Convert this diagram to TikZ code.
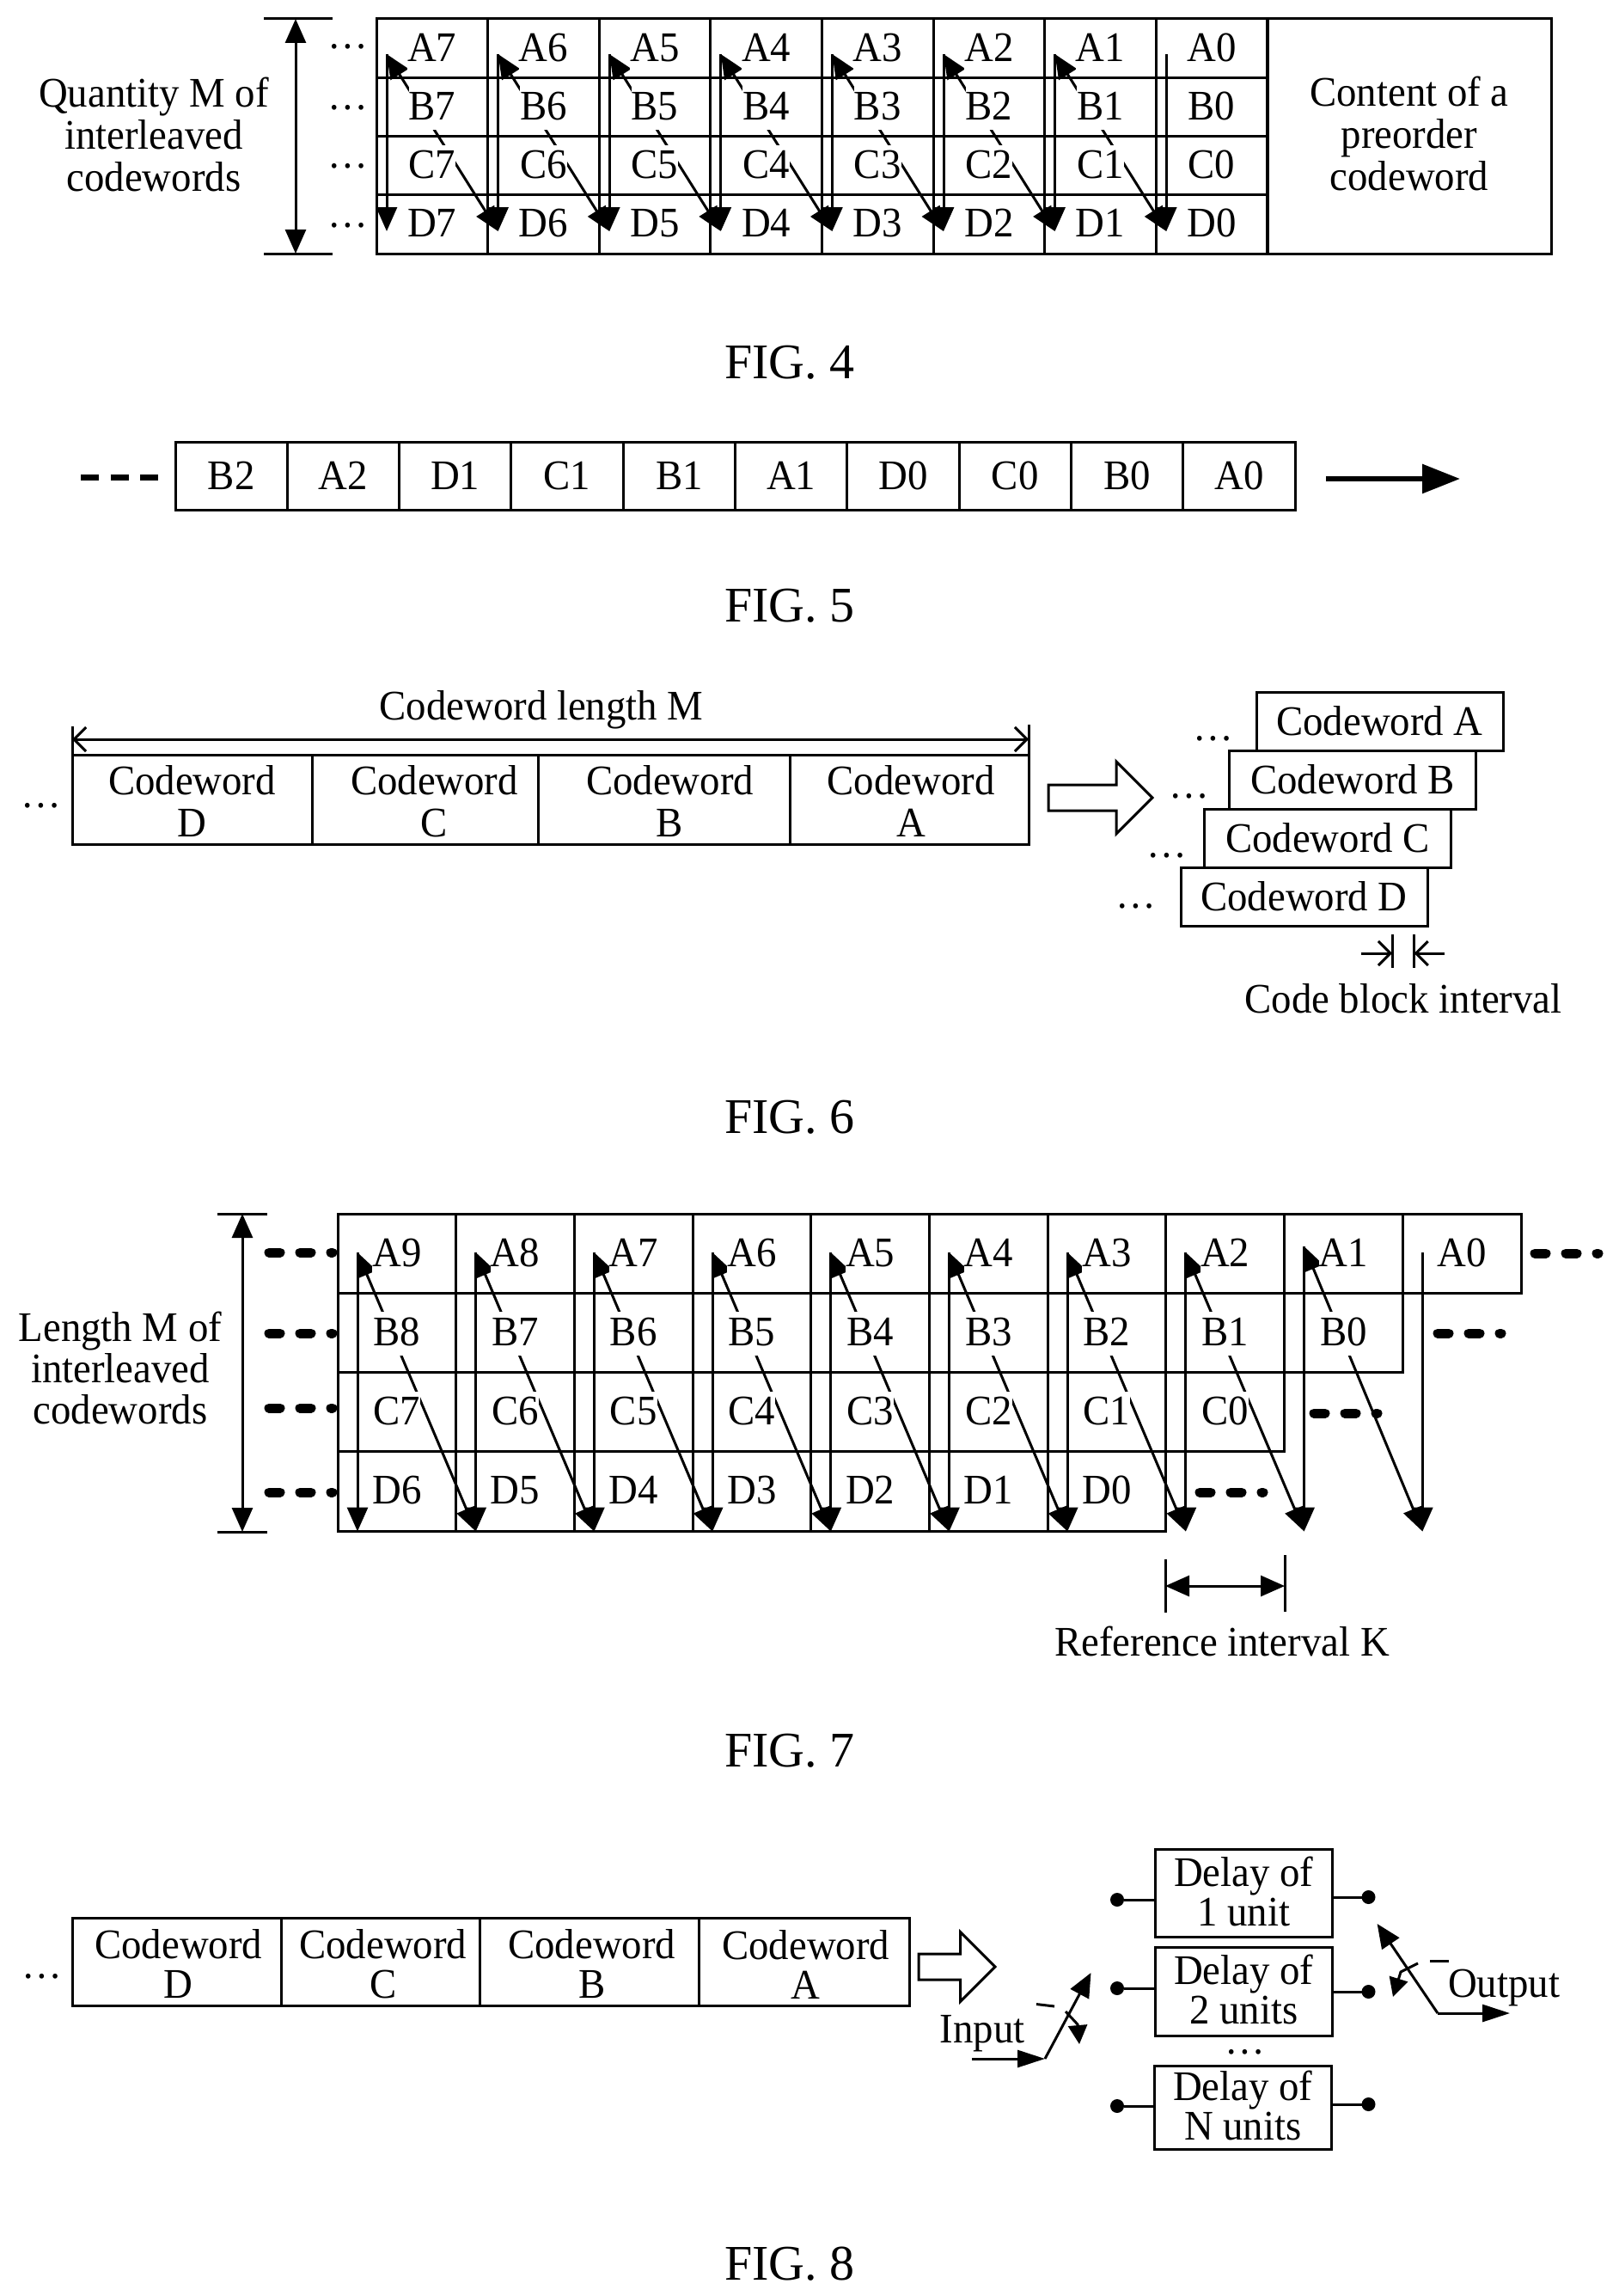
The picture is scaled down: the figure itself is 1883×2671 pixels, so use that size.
\documentclass[tikz,border=0pt]{standalone}
\usepackage{fontspec}
\setmainfont[FakeStretch=0.955]{Liberation Serif}
\newfontfamily\captionfont{Liberation Serif}
\usetikzlibrary{positioning,arrows.meta,shapes.arrows}

\begin{document}
\begin{tikzpicture}
    [
        x = 1pt, y = -1pt,
        line width = 3pt,
        > = {Triangle[length=28pt,width=24pt]},
        every node/.style = {font = \fontsize{49}{49}\selectfont, inner sep = 0pt, outer sep = 0pt},
        cellbox/.style = {draw, line width = 3pt},
        celltext/.style = {fill = white, text height = 39pt, text depth = 12pt, yshift = -1.5pt},
        fourcell/.style = {cellbox, minimum width = 129.6pt, minimum height = 68.25pt},
        fivecell/.style = {cellbox, minimum width = 130.3pt, minimum height = 79pt},
        sevencell/.style = {cellbox, minimum width = 137.7pt, minimum height = 92.25pt},
        stackbox/.style = {cellbox, minimum width = 287pt, minimum height = 68pt},
        delaybox/.style = {cellbox, minimum width = 206.5pt},
        wordtext/.style = {align = center},
        delaytext/.style = {align = center, yshift = 2pt, font = \fontsize{49}{46}\selectfont},
        figlabel/.style = {anchor = base, font = \captionfont\fontsize{58}{58}\selectfont},
        terminal/.style = {circle, fill = black, minimum size = 16pt},
        blockarrow/.style = {draw, single arrow, anchor = tail, inner ysep = 13.5pt, single arrow tip angle = 90, single arrow head indent = 0pt},
        barb/.style = {{Straight Barb[length=14pt,width=28pt]}-{Straight Barb[length=14pt,width=28pt]}},
        barbin/.style = {-{Straight Barb[length=14pt,width=28pt]}},
        longhead/.style = {-{Triangle[length=32pt,width=20pt]}},
        smallhead/.style = {-{Triangle[length=22pt,width=22pt]}},
        dotrow/.style = {line width = 11pt, line cap = round, dash pattern = on 13pt off 23pt}
    ]

        \useasboundingbox (0,0) rectangle (1883,2671);

        % FIG. 4
        \coordinate (FourTop7) at (450,63);    \coordinate (FourBot7) at (450,269);
        \coordinate (FourTop6) at (579.6,63);  \coordinate (FourBot6) at (579.6,269);
        \coordinate (FourTop5) at (709.2,63);  \coordinate (FourBot5) at (709.2,269);
        \coordinate (FourTop4) at (838.8,63);  \coordinate (FourBot4) at (838.8,269);
        \coordinate (FourTop3) at (968.4,63);  \coordinate (FourBot3) at (968.4,269);
        \coordinate (FourTop2) at (1098,63);   \coordinate (FourBot2) at (1098,269);
        \coordinate (FourTop1) at (1227.6,63); \coordinate (FourBot1) at (1227.6,269);
        \coordinate (FourTop0) at (1357.2,63); \coordinate (FourBot0) at (1357.2,269);
        \coordinate (FourDimTop) at (344,22);  \coordinate (FourDimBot) at (344,295);

        \draw[->] (FourTop7) -- (FourBot7);
        \draw[->] (FourTop6) -- (FourBot6);
        \draw[->] (FourTop5) -- (FourBot5);
        \draw[->] (FourTop4) -- (FourBot4);
        \draw[->] (FourTop3) -- (FourBot3);
        \draw[->] (FourTop2) -- (FourBot2);
        \draw[->] (FourTop1) -- (FourBot1);
        \draw[->] (FourTop0) -- (FourBot0);
        \draw[<->] (FourTop7) -- (FourBot6);
        \draw[<->] (FourTop6) -- (FourBot5);
        \draw[<->] (FourTop5) -- (FourBot4);
        \draw[<->] (FourTop4) -- (FourBot3);
        \draw[<->] (FourTop3) -- (FourBot2);
        \draw[<->] (FourTop2) -- (FourBot1);
        \draw[<->] (FourTop1) -- (FourBot0);

        \node[fourcell, anchor = north west, label = {[celltext]center:A7}] (FourA7) at (438,22) {};
        \node[fourcell, right = 0pt of FourA7, label = {[celltext]center:A6}] (FourA6) {};
        \node[fourcell, right = 0pt of FourA6, label = {[celltext]center:A5}] (FourA5) {};
        \node[fourcell, right = 0pt of FourA5, label = {[celltext]center:A4}] (FourA4) {};
        \node[fourcell, right = 0pt of FourA4, label = {[celltext]center:A3}] (FourA3) {};
        \node[fourcell, right = 0pt of FourA3, label = {[celltext]center:A2}] (FourA2) {};
        \node[fourcell, right = 0pt of FourA2, label = {[celltext]center:A1}] (FourA1) {};
        \node[fourcell, right = 0pt of FourA1, label = {[celltext]center:A0}] (FourA0) {};
        \node[fourcell, below = 0pt of FourA7, label = {[celltext]center:B7}] (FourB7) {};
        \node[fourcell, right = 0pt of FourB7, label = {[celltext]center:B6}] (FourB6) {};
        \node[fourcell, right = 0pt of FourB6, label = {[celltext]center:B5}] (FourB5) {};
        \node[fourcell, right = 0pt of FourB5, label = {[celltext]center:B4}] (FourB4) {};
        \node[fourcell, right = 0pt of FourB4, label = {[celltext]center:B3}] (FourB3) {};
        \node[fourcell, right = 0pt of FourB3, label = {[celltext]center:B2}] (FourB2) {};
        \node[fourcell, right = 0pt of FourB2, label = {[celltext]center:B1}] (FourB1) {};
        \node[fourcell, right = 0pt of FourB1, label = {[celltext]center:B0}] (FourB0) {};
        \node[fourcell, below = 0pt of FourB7, label = {[celltext]center:C7}] (FourC7) {};
        \node[fourcell, right = 0pt of FourC7, label = {[celltext]center:C6}] (FourC6) {};
        \node[fourcell, right = 0pt of FourC6, label = {[celltext]center:C5}] (FourC5) {};
        \node[fourcell, right = 0pt of FourC5, label = {[celltext]center:C4}] (FourC4) {};
        \node[fourcell, right = 0pt of FourC4, label = {[celltext]center:C3}] (FourC3) {};
        \node[fourcell, right = 0pt of FourC3, label = {[celltext]center:C2}] (FourC2) {};
        \node[fourcell, right = 0pt of FourC2, label = {[celltext]center:C1}] (FourC1) {};
        \node[fourcell, right = 0pt of FourC1, label = {[celltext]center:C0}] (FourC0) {};
        \node[fourcell, below = 0pt of FourC7, label = {[celltext]center:D7}] (FourD7) {};
        \node[fourcell, right = 0pt of FourD7, label = {[celltext]center:D6}] (FourD6) {};
        \node[fourcell, right = 0pt of FourD6, label = {[celltext]center:D5}] (FourD5) {};
        \node[fourcell, right = 0pt of FourD5, label = {[celltext]center:D4}] (FourD4) {};
        \node[fourcell, right = 0pt of FourD4, label = {[celltext]center:D3}] (FourD3) {};
        \node[fourcell, right = 0pt of FourD3, label = {[celltext]center:D2}] (FourD2) {};
        \node[fourcell, right = 0pt of FourD2, label = {[celltext]center:D1}] (FourD1) {};
        \node[fourcell, right = 0pt of FourD1, label = {[celltext]center:D0}] (FourD0) {};
        \node[cellbox, anchor = north west, minimum width = 330pt, minimum height = 273pt, label = {[align = center, yshift = 3pt]center:Content of a\\preorder\\codeword}] (FourContent) at (1475,22) {};

        \draw[<->] (FourDimTop) -- (FourDimBot);
        \draw ([xshift = -37pt]FourDimTop) -- ([xshift = 43pt]FourDimTop);
        \draw ([xshift = -37pt]FourDimBot) -- ([xshift = 43pt]FourDimBot);
        \node[align = center] (FourDim) at (179,156) {Quantity M of\\interleaved\\codewords};
        \node (FourDotsA) at (405,54) {…};
        \node (FourDotsB) at (405,125) {…};
        \node (FourDotsC) at (405,193) {…};
        \node (FourDotsD) at (405,262) {…};
        \node[figlabel] (FigFour) at (919,440) {FIG. 4};

        % FIG. 5
        \node[fivecell, anchor = north west] (FiveB2) at (204,514) {B2};
        \node[fivecell, right = 0pt of FiveB2] (FiveA2) {A2};
        \node[fivecell, right = 0pt of FiveA2] (FiveD1) {D1};
        \node[fivecell, right = 0pt of FiveD1] (FiveC1) {C1};
        \node[fivecell, right = 0pt of FiveC1] (FiveB1) {B1};
        \node[fivecell, right = 0pt of FiveB1] (FiveA1) {A1};
        \node[fivecell, right = 0pt of FiveA1] (FiveD0) {D0};
        \node[fivecell, right = 0pt of FiveD0] (FiveC0) {C0};
        \node[fivecell, right = 0pt of FiveC0] (FiveB0) {B0};
        \node[fivecell, right = 0pt of FiveB0] (FiveA0) {A0};
        \coordinate (FiveOutStart) at (1543,557);
        \coordinate (FiveOutEnd) at (1699,557);
        \draw[line width = 6pt, -{Triangle[length=44pt,width=33pt]}] (FiveOutStart) -- (FiveOutEnd);
        \draw[line width = 7pt, dash pattern = on 21pt off 13.5pt] (94,555) -- (184,555);
        \node[figlabel] (FigFive) at (919,723) {FIG. 5};

        % FIG. 6
        \node[cellbox, anchor = north west, minimum width = 279pt, minimum height = 104pt, label = {[wordtext, yshift = -2pt]center:Codeword\\D}] (SixD) at (84,878) {};
        \node[cellbox, right = 0pt of SixD, minimum width = 263pt, minimum height = 104pt, label = {[wordtext, xshift = 11pt, yshift = -2pt]center:Codeword\\C}] (SixC) {};
        \node[cellbox, right = 0pt of SixC, minimum width = 293pt, minimum height = 104pt, label = {[wordtext, xshift = 7pt, yshift = -2pt]center:Codeword\\B}] (SixB) {};
        \node[cellbox, right = 0pt of SixB, minimum width = 278pt, minimum height = 104pt, label = {[wordtext, xshift = 2pt, yshift = -2pt]center:Codeword\\A}] (SixA) {};
        \coordinate (SixLenLeft) at (84,860);
        \coordinate (SixLenRight) at (1197,860);
        \draw[barb] (SixLenLeft) -- (SixLenRight);
        \draw (84,845) -- (SixD.north west);
        \draw (1197,843) -- (SixA.north east);
        \node[anchor = base] (SixLen) at (630,837) {Codeword length M};
        \node (SixDots) at (48,937) {…};
        \node[blockarrow, minimum height = 121pt, minimum width = 81pt, single arrow head extend = 27pt] (SixArrow) at (1220,928) {};
        \node[stackbox, anchor = north west] (StackA) at (1462,805) {Codeword A};
        \node[stackbox, anchor = north west] (StackB) at (1430.5,873) {Codeword B};
        \node[stackbox, anchor = north west] (StackC) at (1401.5,941) {Codeword C};
        \node[stackbox, anchor = north west] (StackD) at (1374,1009) {Codeword D};
        \node (StackDotsA) at (1412,859) {…};
        \node (StackDotsB) at (1384,926) {…};
        \node (StackDotsC) at (1358,995) {…};
        \node (StackDotsD) at (1322,1054) {…};
        \coordinate (GapLeft) at (1620,1109);
        \coordinate (GapRight) at (1645.6,1109);
        \coordinate (GapOutLeft) at (1584,1109);
        \coordinate (GapOutRight) at (1681,1109);
        \draw[barbin] (GapOutLeft) -- (GapLeft);
        \draw[barbin] (GapOutRight) -- (GapRight);
        \draw ([yshift = 22pt]GapLeft) -- ([yshift = -17pt]GapLeft);
        \draw ([yshift = 22pt]GapRight) -- ([yshift = -17pt]GapRight);
        \node[anchor = base] (GapText) at (1633,1178) {Code block interval};
        \node[figlabel] (FigSix) at (919,1318) {FIG. 6};

        % FIG. 7
        \coordinate (SevenTop9) at (416,1457);    \coordinate (SevenBot9) at (416,1781.5);
        \coordinate (SevenTop8) at (553.7,1457);  \coordinate (SevenBot8) at (553.7,1781.5);
        \coordinate (SevenTop7) at (691.4,1457);  \coordinate (SevenBot7) at (691.4,1781.5);
        \coordinate (SevenTop6) at (829.1,1457);  \coordinate (SevenBot6) at (829.1,1781.5);
        \coordinate (SevenTop5) at (966.8,1457);  \coordinate (SevenBot5) at (966.8,1781.5);
        \coordinate (SevenTop4) at (1104.5,1457); \coordinate (SevenBot4) at (1104.5,1781.5);
        \coordinate (SevenTop3) at (1242.2,1457); \coordinate (SevenBot3) at (1242.2,1781.5);
        \coordinate (SevenTop2) at (1379.9,1457); \coordinate (SevenBot2) at (1379.9,1781.5);
        \coordinate (SevenTop1) at (1517.6,1450); \coordinate (SevenBot1) at (1517.6,1781.5);
        \coordinate (SevenTop0) at (1655.3,1457); \coordinate (SevenBot0) at (1655.3,1781.5);
        \coordinate (SevenDimTop) at (282,1412);  \coordinate (SevenDimBot) at (282,1782);

        \draw[->] (SevenTop9) -- (SevenBot9);
        \draw[->] (SevenTop8) -- (SevenBot8);
        \draw[->] (SevenTop7) -- (SevenBot7);
        \draw[->] (SevenTop6) -- (SevenBot6);
        \draw[->] (SevenTop5) -- (SevenBot5);
        \draw[->] (SevenTop4) -- (SevenBot4);
        \draw[->] (SevenTop3) -- (SevenBot3);
        \draw[->] (SevenTop2) -- (SevenBot2);
        \draw[->] (SevenTop1) -- (SevenBot1);
        \draw[->] (SevenTop0) -- (SevenBot0);
        \draw[<->] (SevenTop9) -- (SevenBot8);
        \draw[<->] (SevenTop8) -- (SevenBot7);
        \draw[<->] (SevenTop7) -- (SevenBot6);
        \draw[<->] (SevenTop6) -- (SevenBot5);
        \draw[<->] (SevenTop5) -- (SevenBot4);
        \draw[<->] (SevenTop4) -- (SevenBot3);
        \draw[<->] (SevenTop3) -- (SevenBot2);
        \draw[<->] (SevenTop2) -- (SevenBot1);
        \draw[<->] (SevenTop1) -- (SevenBot0);

        \node[sevencell, anchor = north west, label = {[celltext]center:A9}] (SevenA9) at (393,1412) {};
        \node[sevencell, right = 0pt of SevenA9, label = {[celltext]center:A8}] (SevenA8) {};
        \node[sevencell, right = 0pt of SevenA8, label = {[celltext]center:A7}] (SevenA7) {};
        \node[sevencell, right = 0pt of SevenA7, label = {[celltext]center:A6}] (SevenA6) {};
        \node[sevencell, right = 0pt of SevenA6, label = {[celltext]center:A5}] (SevenA5) {};
        \node[sevencell, right = 0pt of SevenA5, label = {[celltext]center:A4}] (SevenA4) {};
        \node[sevencell, right = 0pt of SevenA4, label = {[celltext]center:A3}] (SevenA3) {};
        \node[sevencell, right = 0pt of SevenA3, label = {[celltext]center:A2}] (SevenA2) {};
        \node[sevencell, right = 0pt of SevenA2, label = {[celltext]center:A1}] (SevenA1) {};
        \node[sevencell, right = 0pt of SevenA1, label = {[celltext]center:A0}] (SevenA0) {};
        \node[sevencell, below = 0pt of SevenA9, label = {[celltext]center:B8}] (SevenB8) {};
        \node[sevencell, right = 0pt of SevenB8, label = {[celltext]center:B7}] (SevenB7) {};
        \node[sevencell, right = 0pt of SevenB7, label = {[celltext]center:B6}] (SevenB6) {};
        \node[sevencell, right = 0pt of SevenB6, label = {[celltext]center:B5}] (SevenB5) {};
        \node[sevencell, right = 0pt of SevenB5, label = {[celltext]center:B4}] (SevenB4) {};
        \node[sevencell, right = 0pt of SevenB4, label = {[celltext]center:B3}] (SevenB3) {};
        \node[sevencell, right = 0pt of SevenB3, label = {[celltext]center:B2}] (SevenB2) {};
        \node[sevencell, right = 0pt of SevenB2, label = {[celltext]center:B1}] (SevenB1) {};
        \node[sevencell, right = 0pt of SevenB1, label = {[celltext]center:B0}] (SevenB0) {};
        \node[sevencell, below = 0pt of SevenB8, label = {[celltext]center:C7}] (SevenC7) {};
        \node[sevencell, right = 0pt of SevenC7, label = {[celltext]center:C6}] (SevenC6) {};
        \node[sevencell, right = 0pt of SevenC6, label = {[celltext]center:C5}] (SevenC5) {};
        \node[sevencell, right = 0pt of SevenC5, label = {[celltext]center:C4}] (SevenC4) {};
        \node[sevencell, right = 0pt of SevenC4, label = {[celltext]center:C3}] (SevenC3) {};
        \node[sevencell, right = 0pt of SevenC3, label = {[celltext]center:C2}] (SevenC2) {};
        \node[sevencell, right = 0pt of SevenC2, label = {[celltext]center:C1}] (SevenC1) {};
        \node[sevencell, right = 0pt of SevenC1, label = {[celltext]center:C0}] (SevenC0) {};
        \node[sevencell, below = 0pt of SevenC7, label = {[celltext]center:D6}] (SevenD6) {};
        \node[sevencell, right = 0pt of SevenD6, label = {[celltext]center:D5}] (SevenD5) {};
        \node[sevencell, right = 0pt of SevenD5, label = {[celltext]center:D4}] (SevenD4) {};
        \node[sevencell, right = 0pt of SevenD4, label = {[celltext]center:D3}] (SevenD3) {};
        \node[sevencell, right = 0pt of SevenD3, label = {[celltext]center:D2}] (SevenD2) {};
        \node[sevencell, right = 0pt of SevenD2, label = {[celltext]center:D1}] (SevenD1) {};
        \node[sevencell, right = 0pt of SevenD1, label = {[celltext]center:D0}] (SevenD0) {};

        \draw[<->] (SevenDimTop) -- (SevenDimBot);
        \draw ([xshift = -29pt]SevenDimTop) -- ([xshift = 29pt]SevenDimTop);
        \draw ([xshift = -29pt]SevenDimBot) -- ([xshift = 29pt]SevenDimBot);
        \node[align = center, font = \fontsize{49}{48}\selectfont] (SevenDim) at (140,1591) {Length M of\\interleaved\\codewords};
        \draw[dotrow] (313,1457) -- (387,1457);
        \draw[dotrow] (313,1551) -- (387,1551);
        \draw[dotrow] (313,1638) -- (387,1638);
        \draw[dotrow] (313,1736) -- (387,1736);
        \draw[dotrow] (1786,1458) -- (1860,1458);
        \draw[dotrow] (1673,1551) -- (1747,1551);
        \draw[dotrow] (1529,1644) -- (1603,1644);
        \draw[dotrow] (1396,1736) -- (1470,1736);
        \coordinate (RefLeft) at (1356,1845);
        \coordinate (RefRight) at (1495,1845);
        \draw[<->] (RefLeft) -- (RefRight);
        \draw ([yshift = 31pt]RefLeft) -- ([yshift = -31pt]RefLeft);
        \draw ([yshift = 36pt]RefRight) -- ([yshift = -30pt]RefRight);
        \node[anchor = base] (RefText) at (1422,1926) {Reference interval K};
        \node[figlabel] (FigSeven) at (919,2055) {FIG. 7};

        % FIG. 8
        \node[cellbox, anchor = north west, minimum width = 243.5pt, minimum height = 102pt, label = {[wordtext, font = \fontsize{49}{46}\selectfont, xshift = 2pt, yshift = -3pt]center:Codeword\\D}] (EightD) at (84,2231) {};
        \node[cellbox, right = 0pt of EightD, minimum width = 230.5pt, minimum height = 102pt, label = {[wordtext, font = \fontsize{49}{46}\selectfont, xshift = 3pt, yshift = -3pt]center:Codeword\\C}] (EightC) {};
        \node[cellbox, right = 0pt of EightC, minimum width = 255.5pt, minimum height = 102pt, label = {[wordtext, font = \fontsize{49}{46}\selectfont, xshift = 3pt, yshift = -3pt]center:Codeword\\B}] (EightB) {};
        \node[cellbox, right = 0pt of EightB, minimum width = 244.5pt, minimum height = 102pt, label = {[wordtext, font = \fontsize{49}{46}\selectfont, xshift = 2pt, yshift = -3pt]center:Codeword\\A}] (EightA) {};
        \node (EightDots) at (49,2299) {…};
        \node[blockarrow, minimum height = 89pt, minimum width = 78pt, single arrow head extend = 25.5pt] (EightArrow) at (1069,2288) {};

        \node[delaybox, anchor = north west, minimum height = 102pt, label = {[delaytext]center:Delay of\\1 unit}] (DelayOne) at (1344,2151) {};
        \node[delaybox, anchor = north west, minimum height = 103pt, label = {[delaytext]center:Delay of\\2 units}] (DelayTwo) at (1344,2265) {};
        \node[delaybox, anchor = north west, minimum height = 97pt, label = {[delaytext]center:Delay of\\N units}] (DelayN) at (1343,2403) {};
        \node (DelayDots) at (1448.5,2387) {…};
        \node[terminal] (InOne) at (1300,2210) {};
        \node[terminal] (InTwo) at (1300,2313) {};
        \node[terminal] (InN) at (1300,2450) {};
        \node[terminal] (OutOne) at (1592.5,2207) {};
        \node[terminal] (OutTwo) at (1592.5,2317) {};
        \node[terminal] (OutN) at (1592.5,2448) {};
        \draw (InOne) -- (InOne -| DelayOne.west);
        \draw (InTwo) -- (InTwo -| DelayTwo.west);
        \draw (InN) -- (InN -| DelayN.west);
        \draw (OutOne -| DelayOne.east) -- (OutOne);
        \draw (OutTwo -| DelayTwo.east) -- (OutTwo);
        \draw (OutN -| DelayN.east) -- (OutN);

        \node[anchor = base] (InputText) at (1143,2376) {Input};
        \coordinate (InStart) at (1131,2395);
        \coordinate (InKnee) at (1216,2395);
        \coordinate (InTip) at (1269.5,2295);
        \coordinate (InCross) at (1240,2340);
        \coordinate (InDrop) at (1256,2378);
        \draw[longhead] (InStart) -- (InKnee);
        \draw[->] (InKnee) -- (InTip);
        \draw[smallhead] (InCross) -- (1254,2355) -- (InDrop);
        \draw (1206,2331.5) -- (1227,2334);

        \node[anchor = base] (OutputText) at (1750,2323) {Output};
        \coordinate (OutTip) at (1602.6,2238);
        \coordinate (OutKnee) at (1673,2342);
        \coordinate (OutEnd) at (1757,2342);
        \coordinate (OutCross) at (1650,2284);
        \coordinate (OutDrop) at (1621,2323);
        \draw[<-] (OutTip) -- (OutKnee);
        \draw[longhead] (OutKnee) -- (OutEnd);
        \draw[smallhead] (OutCross) -- (1630,2294) -- (OutDrop);
        \draw (1664,2281) -- (1686,2281);
        \node[figlabel] (FigEight) at (919,2652) {FIG. 8};
    \end{tikzpicture}
\end{document}
